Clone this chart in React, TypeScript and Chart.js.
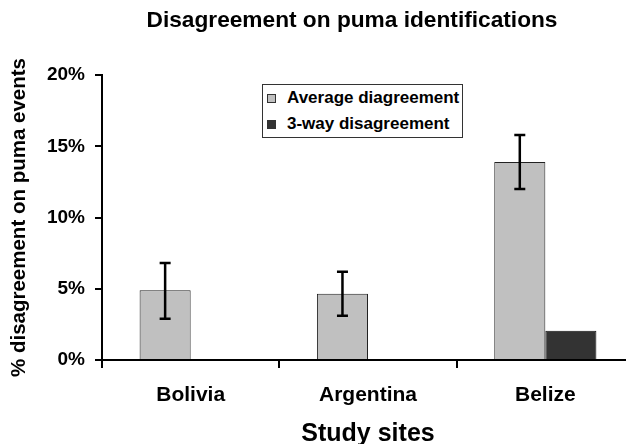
import React, { useEffect, useRef } from "react";
import { Chart, registerables } from "chart.js";

Chart.register(...registerables);

const categories = ["Bolivia", "Argentina", "Belize"];
const seriesLabels = ["Average diagreement", "3-way disagreement"];
const seriesColors = ["#c0c0c0", "#333333"];
const averageDisagreement = [4.9, 4.65, 13.9];
const threeWayDisagreement: (number | null)[] = [null, null, 2.05];
const averageErrorLow = [2.9, 3.1, 12.0];
const averageErrorHigh = [6.8, 6.2, 15.8];
const yTickValues = [0, 5, 10, 15, 20];

const FONT = "'Liberation Sans', Arial, sans-serif";

const errorBarPlugin = {
  id: "errorBars",
  afterDatasetsDraw(chart: any) {
    const meta = chart.getDatasetMeta(0);
    const yScale = chart.scales.y;
    const ctx = chart.ctx;
    ctx.save();
    ctx.strokeStyle = "#000";
    ctx.lineWidth = 2.5;
    meta.data.forEach((bar: any, i: number) => {
      const x = bar.x;
      const yl = yScale.getPixelForValue(averageErrorLow[i]);
      const yh = yScale.getPixelForValue(averageErrorHigh[i]);
      ctx.beginPath();
      ctx.moveTo(x, yl);
      ctx.lineTo(x, yh);
      ctx.moveTo(x - 5.5, yl);
      ctx.lineTo(x + 5.5, yl);
      ctx.moveTo(x - 5.5, yh);
      ctx.lineTo(x + 5.5, yh);
      ctx.stroke();
    });
    ctx.restore();
  },
};

export default function App() {
  const canvasRef = useRef<HTMLCanvasElement>(null);

  useEffect(() => {
    const canvas = canvasRef.current;
    if (!canvas) return;
    const chart = new Chart(canvas, {
      type: "bar",
      data: {
        labels: categories,
        datasets: [
          {
            label: seriesLabels[0],
            data: averageDisagreement,
            backgroundColor: seriesColors[0],
            borderColor: "#222",
            borderWidth: 1,
            categoryPercentage: 0.576,
            barPercentage: 1,
          },
          {
            label: seriesLabels[1],
            data: threeWayDisagreement,
            backgroundColor: seriesColors[1],
            borderColor: "#111",
            borderWidth: 1,
            categoryPercentage: 0.576,
            barPercentage: 1,
          },
        ],
      },
      options: {
        responsive: false,
        animation: false,
        devicePixelRatio: 1,
        layout: { padding: 0 },
        plugins: {
          legend: { display: false },
          tooltip: { enabled: false },
          title: {
            display: true,
            text: "Disagreement on puma identifications",
            color: "#000",
            font: { family: FONT, size: 22.7, weight: "bold" },
            padding: { top: 7, bottom: 40.8 },
          },
        },
        scales: {
          x: {
            grid: {
              drawOnChartArea: false,
              drawTicks: true,
              tickLength: 8,
              color: "#000",
              lineWidth: 2,
              offset: true,
            },
            border: { display: true, color: "#000", width: 2 },
            ticks: {
              color: "#000",
              font: { family: FONT, size: 21, weight: "bold" },
              padding: 15,
            },
            title: {
              display: true,
              text: "Study sites",
              color: "#000",
              font: { family: FONT, size: 25, weight: "bold", lineHeight: 1 },
              padding: { top: 0, bottom: -3 },
            },
            afterFit: (scale: any) => {
              scale.height = 84;
            },
          },
          y: {
            min: 0,
            max: 20,
            afterBuildTicks: (scale: any) => {
              scale.ticks = yTickValues.map((v) => ({ value: v }));
            },
            grid: {
              drawOnChartArea: false,
              drawTicks: true,
              tickLength: 7,
              color: "#000",
              lineWidth: 2,
            },
            border: { display: true, color: "#000", width: 2 },
            ticks: {
              color: "#000",
              font: { family: FONT, size: 19, weight: "bold" },
              padding: 10,
              callback: (v: any) => `${v}%`,
            },
            title: {
              display: true,
              text: "% disagreement on puma events",
              color: "#000",
              font: { family: FONT, size: 20.5, weight: "bold" },
              padding: { top: 7, bottom: 0 },
            },
            afterFit: (scale: any) => {
              scale.width = 102;
            },
          },
          spacer: {
            type: "linear",
            position: "right",
            display: true,
            grid: { display: false, drawTicks: false },
            border: { display: false },
            ticks: { display: false },
            afterFit: (scale: any) => {
              scale.width = 70;
            },
          },
        },
      },
      plugins: [errorBarPlugin],
    });
    return () => chart.destroy();
  }, []);

  return (
    <div
      style={{
        position: "absolute",
        left: 0,
        top: 0,
        width: 626,
        height: 444,
        overflow: "hidden",
        background: "#fff",
      }}
    >
      <canvas ref={canvasRef} width={704} height={444} style={{ display: "block" }} />
      <div
        style={{
          position: "absolute",
          left: 262,
          top: 84,
          width: 199,
          height: 52,
          border: "1px solid #333",
          background: "#fff",
          fontFamily: FONT,
          fontWeight: "bold",
          fontSize: 17,
          color: "#000",
          boxSizing: "content-box",
        }}
      >
        {seriesLabels.map((label, i) => (
          <div
            key={label}
            style={{
              position: "absolute",
              left: 4,
              top: i === 0 ? 3 : 29,
              height: 20,
              lineHeight: "20px",
              whiteSpace: "nowrap",
              display: "flex",
              alignItems: "center",
            }}
          >
            <span
              style={{
                display: "inline-block",
                width: 7,
                height: 7,
                background: seriesColors[i],
                border: "1px solid #333",
                marginRight: 11,
              }}
            />
            <span>{label}</span>
          </div>
        ))}
      </div>
    </div>
  );
}
